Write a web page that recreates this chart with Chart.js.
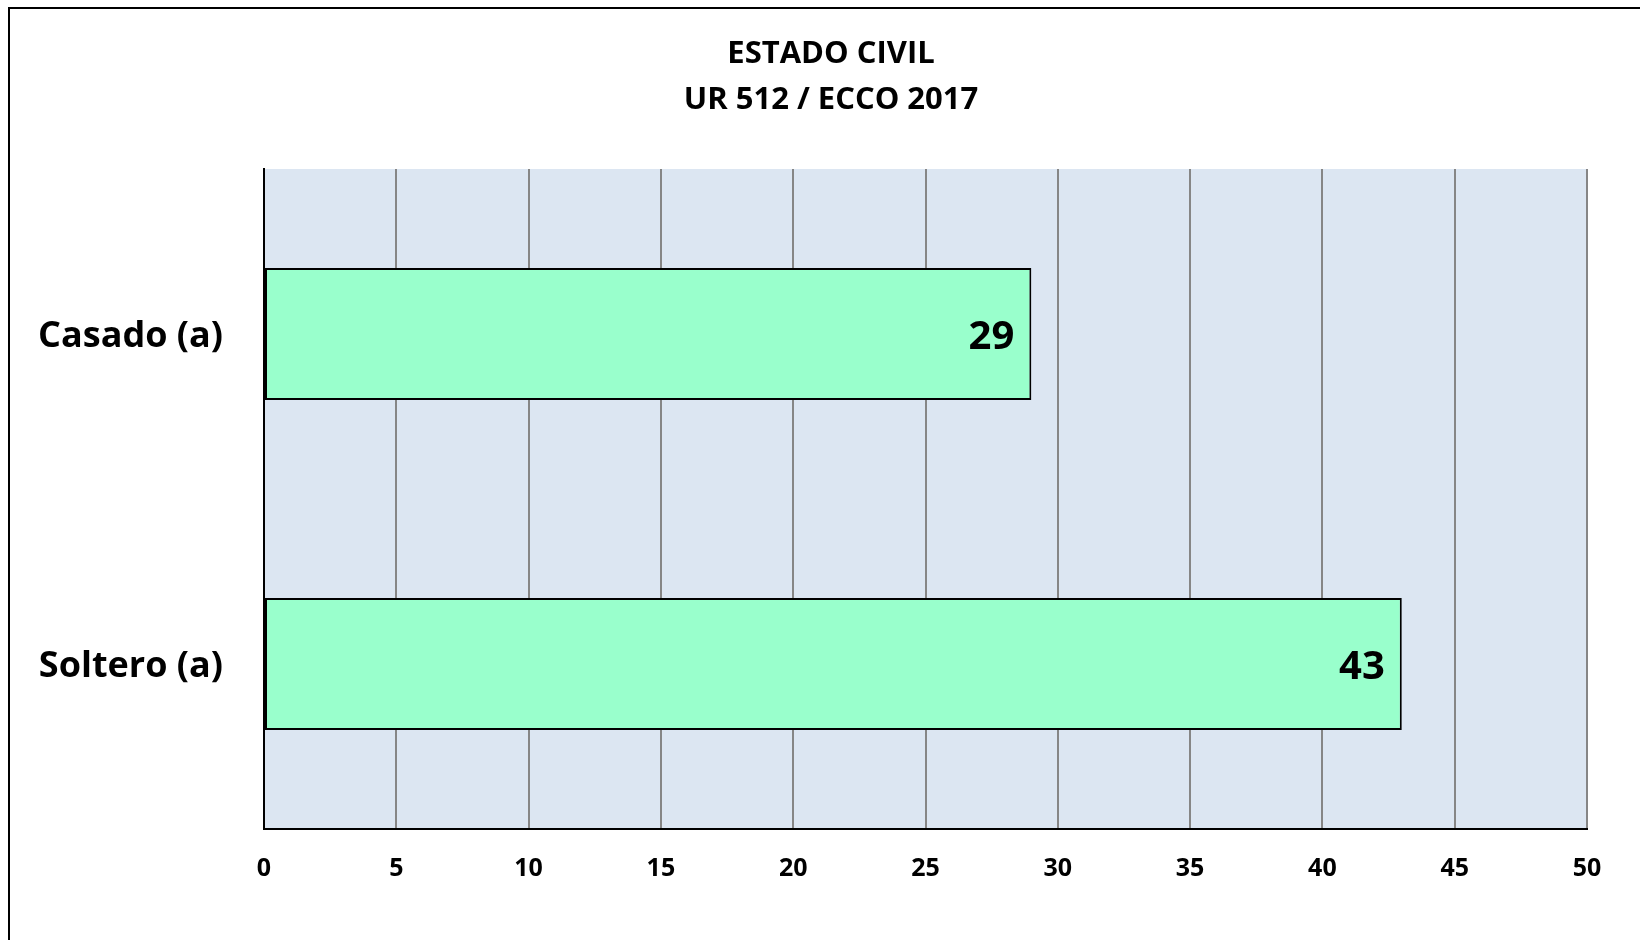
<!DOCTYPE html>
<html>
<head>
<meta charset="utf-8">
<title>Estado civil</title>
<script src="https://cdn.jsdelivr.net/npm/chart.js@4.4.1/dist/chart.umd.min.js"></script>
<style>
    html, body { margin: 0; padding: 0; background: #ffffff; overflow: hidden; }
    canvas { display: block; }
</style>
</head>
<body>
<canvas id="civilChart" width="1640" height="940"></canvas>
<script>
// Chart data
const categories = ['Casado (a)', 'Soltero (a)'];
const counts = [29, 43];
const titleLines = ['ESTADO CIVIL', 'UR 512 / ECCO 2017'];
const axisMin = 0;
const axisMax = 50;
const axisStep = 5;

const FONT = '"Open Sans", Lato, sans-serif';

// Paints the outer frame and the plot background
const backgroundPlugin = {
    id: 'backgroundPlugin',
    beforeDraw(chart) {
        const ctx = chart.ctx;
        const area = chart.chartArea;
        ctx.save();
        ctx.fillStyle = '#ffffff';
        ctx.fillRect(0, 0, chart.width, chart.height);
        ctx.strokeStyle = '#000000';
        ctx.lineWidth = 2;
        ctx.strokeRect(9, 8, chart.width + 100, chart.height + 100);
        ctx.fillStyle = '#DCE6F2';
        ctx.fillRect(area.left, area.top, area.right - area.left, area.bottom - area.top);
        ctx.restore();
    }
};

// Two-line title, centred on the frame rather than the plot
const titlePlugin = {
    id: 'titlePlugin',
    afterDraw(chart) {
        const ctx = chart.ctx;
        ctx.save();
        ctx.font = 'bold 31px ' + FONT;
        ctx.fillStyle = '#000000';
        ctx.textAlign = 'center';
        ctx.textBaseline = 'middle';
        titleLines.forEach((line, i) => {
            ctx.fillText(line, 831, 54 + i * 46);
        });
        ctx.restore();
    }
};

// Writes the value near the end of each bar
const valueLabelPlugin = {
    id: 'valueLabelPlugin',
    afterDatasetsDraw(chart) {
        const ctx = chart.ctx;
        const meta = chart.getDatasetMeta(0);
        ctx.save();
        ctx.font = 'bold 40px ' + FONT;
        ctx.fillStyle = '#000000';
        ctx.textAlign = 'right';
        ctx.textBaseline = 'middle';
        meta.data.forEach((bar, i) => {
            ctx.fillText(String(counts[i]), bar.x - 17, bar.y + 4);
        });
        ctx.restore();
    }
};

const ctx = document.getElementById('civilChart').getContext('2d');
const civilChart = new Chart(ctx, {
    type: 'bar',
    data: {
        labels: categories,
        datasets: [{
            data: counts,
            backgroundColor: '#99FFCC',
            borderColor: '#000000',
            borderWidth: 2,
            borderSkipped: false,
            categoryPercentage: 1.0,
            barPercentage: 0.4
        }]
    },
    options: {
        indexAxis: 'y',
        responsive: false,
        animation: false,
        devicePixelRatio: 1,
        layout: {
            padding: { left: 0, right: 53, top: 169, bottom: 0 }
        },
        plugins: {
            legend: { display: false },
            tooltip: { enabled: false },
            title: { display: false }
        },
        scales: {
            x: {
                min: axisMin,
                max: axisMax,
                ticks: {
                    stepSize: axisStep,
                    color: '#000000',
                    font: { family: FONT, size: 25, weight: 'bold' },
                    padding: 25
                },
                grid: {
                    color: '#868686',
                    lineWidth: 2,
                    drawTicks: false
                },
                border: { color: '#000000', width: 2 },
                afterFit(scale) { scale.height = 111; }
            },
            y: {
                ticks: {
                    color: '#000000',
                    font: { family: FONT, size: 36, weight: 'bold' },
                    padding: 41,
                    labelOffset: 3
                },
                grid: { display: false, drawTicks: false },
                border: { color: '#000000', width: 2 },
                afterFit(scale) { scale.width = 264; }
            }
        }
    },
    plugins: [backgroundPlugin, titlePlugin, valueLabelPlugin]
});
</script>
</body>
</html>
